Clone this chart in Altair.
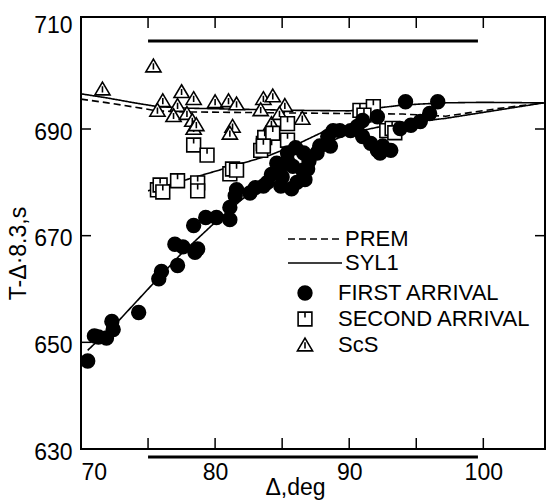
import altair as alt
import pandas as pd

# ---------------- data ----------------
first_x = [70.5, 71.0, 71.3, 71.9, 72.4, 72.3, 74.3, 75.8, 76.0, 77.2, 77.0, 77.6, 78.5, 78.7,
           78.4, 79.3, 80.1, 81.1, 81.1, 81.5, 81.6, 82.6, 83.6, 83.9, 84.9, 84.6, 84.9, 85.4,
           85.4, 86.1, 86.6, 86.6, 86.9, 86.6, 87.6, 87.8, 88.4, 88.6, 88.8, 89.3, 90.1, 90.6,
           91.0, 91.6, 92.1, 92.5, 92.3, 93.1, 91.0, 92.1, 93.8, 94.6, 95.3, 96.0, 94.2, 96.6,
           83.0, 84.2, 85.0, 85.8, 86.0, 87.0, 85.7, 86.7]
first_y = [646.5, 651.2, 651.0, 650.8, 652.4, 653.9, 655.6, 661.9, 663.3, 664.4, 668.4, 667.9, 666.9, 667.5,
           671.9, 673.4, 673.4, 673.0, 675.3, 677.5, 678.6, 678.0, 679.3, 680.0, 679.3, 683.6, 683.0, 684.0,
           685.5, 680.0, 681.8, 682.3, 682.5, 685.5, 685.5, 686.8, 688.6, 686.8, 689.7, 689.7, 689.7, 690.5,
           688.6, 687.3, 686.0, 686.8, 685.5, 686.0, 691.6, 692.3, 690.1, 690.7, 691.4, 692.9, 695.1, 695.1,
           679.0, 681.5, 681.0, 683.0, 686.5, 684.0, 678.8, 680.5]

second_x = [75.7, 75.9, 76.1, 77.2, 78.4, 79.4, 78.7, 78.7, 81.1, 81.3, 81.6, 83.4, 83.6, 83.7,
            84.3, 85.4, 85.4, 86.3, 90.8, 91.8, 91.1, 92.8, 93.2, 93.4, 83.6]
second_y = [678.6, 679.5, 678.2, 680.3, 687.0, 685.1, 679.9, 678.4, 681.6, 682.5, 682.3, 686.0, 687.3, 688.4,
            689.2, 687.9, 691.0, 684.2, 693.5, 694.2, 692.6, 689.7, 690.1, 689.3, 686.8]

scs_x = [71.6, 75.4, 76.1, 75.7, 77.5, 77.2, 76.9, 77.9, 78.4, 78.3, 78.4, 78.6, 80.0, 81.0,
         81.6, 81.3, 81.1, 83.6, 84.3, 83.4, 84.2, 85.2, 86.5, 84.8]
scs_y = [697.5, 701.8, 695.3, 693.5, 697.0, 694.4, 692.5, 692.9, 695.7, 691.6, 690.1, 690.8, 695.1, 695.3,
         694.7, 690.5, 689.2, 695.7, 696.2, 693.6, 691.0, 694.4, 692.0, 692.9]

prem_x = [70, 72, 74, 75.7, 78, 82, 86, 90, 94, 97.2, 101, 104.5]
prem_y = [695.6, 694.9, 694.1, 693.4, 693.2, 693.1, 693.0, 692.9, 692.8, 692.4, 693.8, 694.9]

syl_scs_x = [70, 72, 74, 75.7, 78, 82, 86, 90, 92, 94, 97, 100, 104.5]
syl_scs_y = [696.6, 695.8, 694.9, 694.2, 693.9, 693.7, 693.5, 693.4, 693.9, 694.5, 694.9, 695.0, 694.9]

syl_first_x = [70.5, 72.9, 75.3, 77.4, 80, 82, 84, 86, 88, 90, 93, 97.2, 104.5]
syl_first_y = [648.5, 654.3, 660.8, 666.4, 672.5, 676.8, 680.6, 684.0, 687.0, 689.2, 690.8, 692.0, 694.9]

syl_second_x = [75.0, 78, 81, 84.1, 86, 88.5]
syl_second_y = [678.4, 680.6, 682.8, 685.1, 687.0, 690.0]

tick_x = [75, 80, 85, 90, 95, 100]
tick_y_left = [650, 670, 690]
tick_y_right = [670, 690]
x_labels = [70, 80, 90, 100]
y_labels = [630, 650, 670, 690, 710]

bar_x = [75, 99.6]
bar_y = [706.5, 628.5]

types = ["FIRST ARRIVAL", "SECOND ARRIVAL", "ScS"]
models = ["PREM", "SYL1"]

# ---------------- tables ----------------
pts = pd.concat([
    pd.DataFrame({"x": scs_x, "y": scs_y, "type": "ScS"}),
    pd.DataFrame({"x": second_x, "y": second_y, "type": "SECOND ARRIVAL"}),
    pd.DataFrame({"x": first_x, "y": first_y, "type": "FIRST ARRIVAL"}),
], ignore_index=True)

lines = pd.concat([
    pd.DataFrame({"x": prem_x, "y": prem_y, "model": "PREM", "branch": "p"}),
    pd.DataFrame({"x": syl_scs_x, "y": syl_scs_y, "model": "SYL1", "branch": "a"}),
    pd.DataFrame({"x": syl_first_x, "y": syl_first_y, "model": "SYL1", "branch": "b"}),
    pd.DataFrame({"x": syl_second_x, "y": syl_second_y, "model": "SYL1", "branch": "c"}),
], ignore_index=True)

bars = pd.DataFrame({"x": [bar_x[0]] * 2, "x2": [bar_x[1]] * 2, "y": bar_y})
tx = pd.DataFrame({"x": tick_x})
tyl = pd.DataFrame({"y": tick_y_left})
tyr = pd.DataFrame({"y": tick_y_right})

W, H = 464, 432
FONT = "Liberation Sans"

xs = alt.Scale(domain=[70, 104.6], nice=False, zero=False)
ys = alt.Scale(domain=[630, 711], nice=False, zero=False)

xaxis = alt.Axis(values=x_labels, title="Δ,deg", labelFlush=True, labelPadding=12,
                 ticks=False, tickSize=0, domain=False, grid=False,
                 titleX=214, titleY=45, titleAlign="center", titleBaseline="alphabetic")
yaxis = alt.Axis(values=y_labels, title="T-Δ·8.3,s", labelPadding=9, labelOffset=3,
                 ticks=False, tickSize=0, domain=False, grid=False,
                 titleAngle=270, titleX=-63, titleY=236, titleAlign="center",
                 titleBaseline="middle")

X = alt.X("x:Q", scale=xs, axis=xaxis)
Y = alt.Y("y:Q", scale=ys, axis=yaxis)

square_path = "M-1,-1H1V1H-1Z M0,-1V-0.2"
tri_path = "M0,-1L1.1,0.85H-1.1Z M0,-0.4V0.5"

pt_legend = alt.Legend(title=None, orient="none", legendX=213, legendY=263,
                       symbolSize=190, symbolStrokeWidth=1.6, symbolStrokeColor="black",
                       labelFontSize=22, labelFont=FONT, labelColor="black", labelLimit=400,
                       labelOffset=22, clipHeight=26, rowPadding=0, padding=0)
line_legend = alt.Legend(title=None, orient="none", legendX=206, legendY=210,
                         symbolType="stroke", symbolSize=2916, symbolStrokeWidth=1.5,
                         symbolStrokeColor="black", labelFontSize=22, labelFont=FONT,
                         labelColor="black", labelOffset=2, clipHeight=24, rowPadding=0,
                         labelLimit=400, padding=0)

line_layer = alt.Chart(lines).mark_line(color="black", strokeWidth=1.6).encode(
    x=X, y=Y, detail="branch:N",
    strokeDash=alt.StrokeDash("model:N", scale=alt.Scale(domain=models, range=[[7, 4], [1, 0]]),
                              legend=line_legend),
)

point_layer = alt.Chart(pts).mark_point(filled=True, strokeWidth=1.6,
                                        opacity=1, size=190).encode(
    x=X, y=Y,
    shape=alt.Shape("type:N", scale=alt.Scale(domain=types, range=["circle", square_path, tri_path]),
                    legend=pt_legend),
    fill=alt.Fill("type:N", scale=alt.Scale(domain=types, range=["black", "white", "white"]),
                  legend=pt_legend),
    stroke=alt.Stroke("type:N", scale=alt.Scale(domain=types, range=["black", "black", "black"]),
                      legend=pt_legend),
)

bar_layer = alt.Chart(bars).mark_rule(color="black", strokeWidth=3).encode(
    x=X, x2="x2:Q", y=Y)

tick_bottom = alt.Chart(tx).mark_rule(color="black", strokeWidth=1.5).encode(
    x=X, y=alt.value(H), y2=alt.value(H - 11))
tick_top = alt.Chart(tx).mark_rule(color="black", strokeWidth=1.5).encode(
    x=X, y=alt.value(0), y2=alt.value(11))
tick_left = alt.Chart(tyl).mark_rule(color="black", strokeWidth=1.5).encode(
    y=Y, x=alt.value(0), x2=alt.value(10))
tick_right = alt.Chart(tyr).mark_rule(color="black", strokeWidth=1.5).encode(
    y=Y, x=alt.value(W), x2=alt.value(W - 10))

chart = alt.layer(
    bar_layer, tick_bottom, tick_top, tick_left, tick_right, line_layer, point_layer
).properties(
    width=W, height=H,
    autosize=alt.AutoSizeParams(type="none"),
    padding={"left": 81, "top": 17, "right": 2, "bottom": 52},
    background="white",
).configure_view(
    stroke="black", strokeWidth=2
).configure_axis(
    labelFont=FONT, labelFontSize=23, labelColor="black",
    titleFont=FONT, titleFontSize=23, titleColor="black", titleFontWeight="normal",
)

chart.save("out.html", embed_options={"renderer": "svg", "actions": False})
